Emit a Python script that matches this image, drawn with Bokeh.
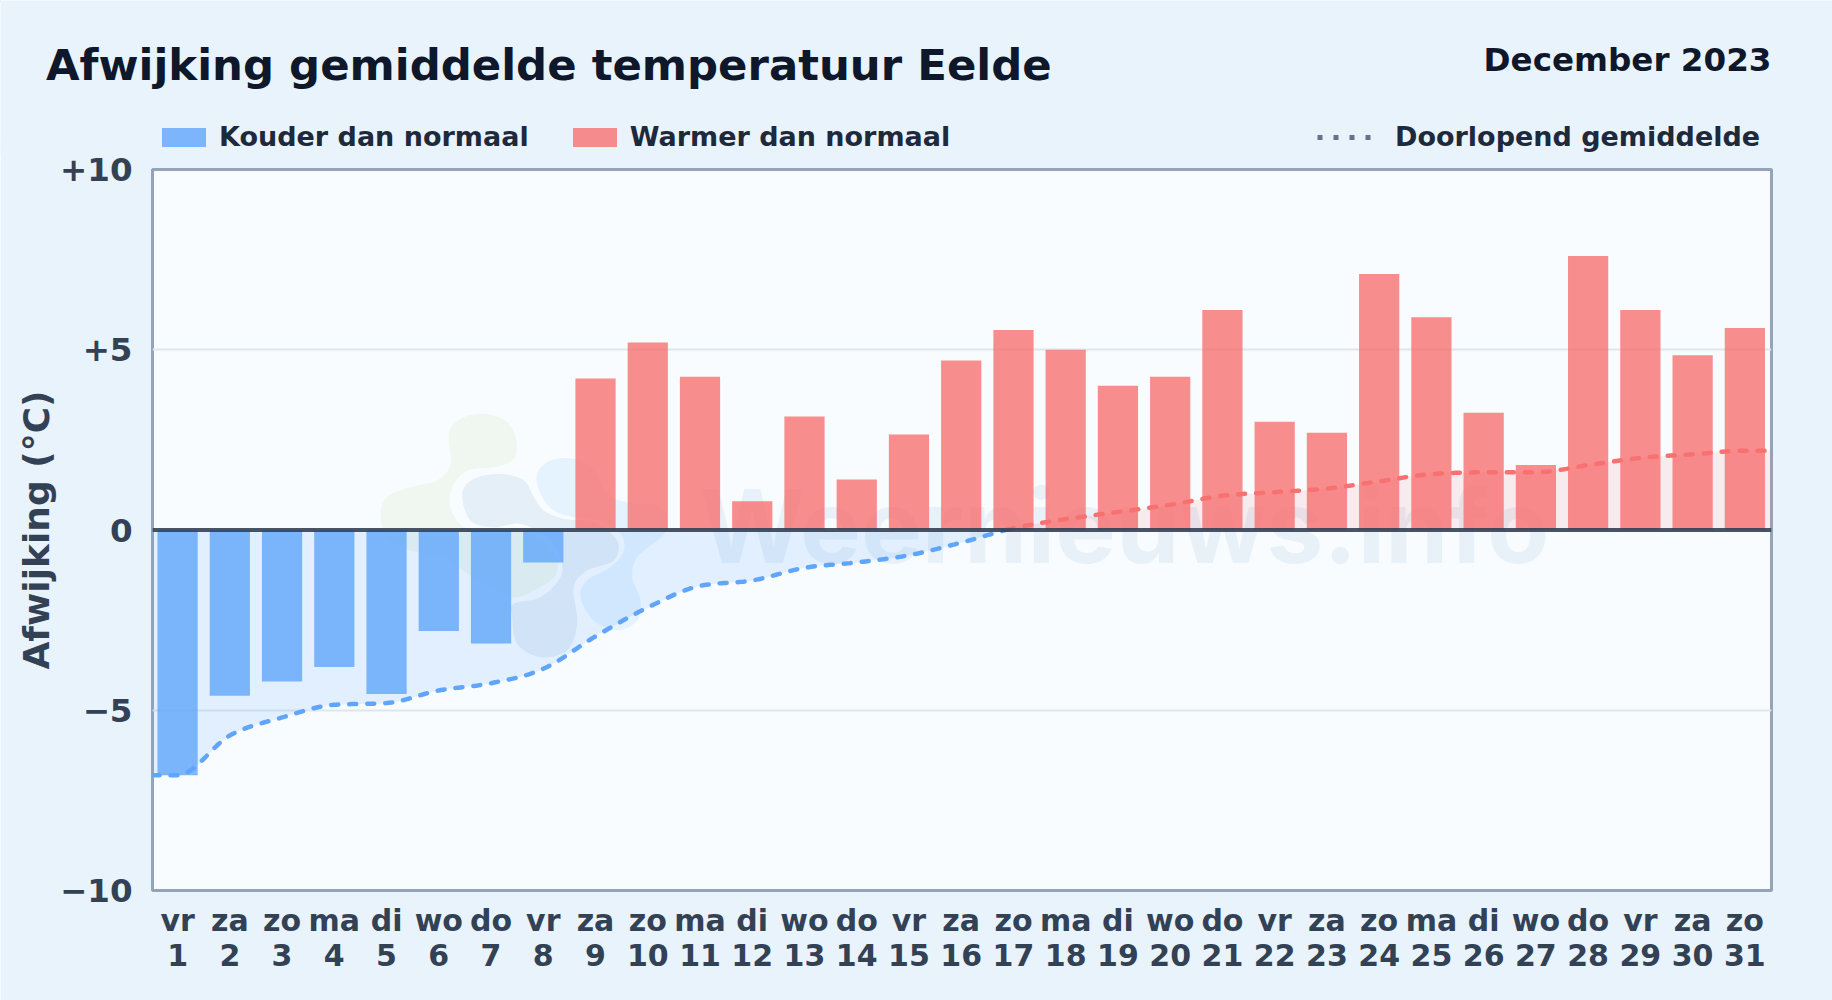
import numpy as np
from bokeh.embed import file_html
from bokeh.resources import INLINE
from bokeh.plotting import figure
from bokeh.models import (ColumnDataSource, FixedTicker, Label, Legend, LegendItem, LinearAxis, PolyAnnotation,
                          Range1d, Span)

TITLE = "Afwijking gemiddelde temperatuur Eelde"
PERIOD = "December 2023"
Y_LABEL = "Afwijking (°C)"
WATERMARK = "Weernieuws.info"
LEGEND_COLD = "Kouder dan normaal"
LEGEND_WARM = "Warmer dan normaal"
LEGEND_MEAN = "Doorlopend gemiddelde"

days = list(range(1, 32))
weekdays = ["vr", "za", "zo", "ma", "di", "wo", "do", "vr", "za", "zo", "ma", "di", "wo", "do", "vr", "za",
            "zo", "ma", "di", "wo", "do", "vr", "za", "zo", "ma", "di", "wo", "do", "vr", "za", "zo"]
anomaly = [-6.8, -4.6, -4.2, -3.8, -4.55, -2.8, -3.15, -0.9, 4.2, 5.2, 4.25, 0.8, 3.15, 1.4, 2.65, 4.7,
           5.55, 5.0, 4.0, 4.25, 6.1, 3.0, 2.7, 7.1, 5.9, 3.25, 1.8, 7.6, 6.1, 4.85, 5.6]
running_mean = [-6.8, -5.7, -5.2, -4.85, -4.8, -4.45, -4.25, -3.85, -2.95, -2.15, -1.55, -1.4, -1.05, -0.9,
                -0.7, -0.35, 0.05, 0.3, 0.5, 0.7, 0.95, 1.05, 1.15, 1.35, 1.55, 1.6, 1.6, 1.8, 2.0, 2.1, 2.2]
y_ticks = [-10, -5, 0, 5, 10]
y_tick_labels = ["−10", "−5", "0", "+5", "+10"]

# Decorative watermark logo outline (reference pixels)
LOGO_GREEN = [(265,130),(300,85),(370,70),(440,95),(470,160),(455,210),(400,230),(320,240),(275,290),(270,350),
              (310,410),(400,430),(480,420),(550,450),(590,510),(580,560),(520,600),(450,620),(350,570),
              (250,500),(150,480),(80,440),(60,370),(80,320),(150,290),(230,270),(270,220)]
LOGO_SLATE = [(305,310),(340,265),(420,250),(490,270),(520,320),(550,360),(610,385),(700,395),(770,450),(760,510),
              (680,540),(640,590),(650,700),(620,780),(540,800),(470,760),(455,680),(460,640),(540,620),
              (600,560),(600,500),(560,440),(480,400),(400,410),(330,390)]
LOGO_SKY = [(530,250),(570,210),(640,205),(700,240),(740,310),(800,335),(900,350),(920,410),(890,450),(830,500),
            (815,560),(840,630),(830,690),(770,720),(700,690),(660,620),(680,570),(750,530),(790,480),
            (780,430),(720,390),(640,380),(580,360),(540,310)]

BG = "#e8f3fc"
LEFT, RIGHT, TOP, BOTTOM = 152, 1771, 169, 890
W, H = 1832, 1000
HEAD = 154
OVERLAP = 14
X0, X1 = 0.52, 31.51
PX_PER_X = (RIGHT - LEFT) / (X1 - X0)
PX_PER_Y = (BOTTOM - TOP) / 20
MID = (TOP + BOTTOM) / 2


def monotone(x, y, per=24):
    x, y = np.asarray(x, float), np.asarray(y, float)
    h = np.diff(x)
    s = np.diff(y) / h
    m = np.zeros_like(y)
    for i in range(1, len(y) - 1):
        if s[i - 1] * s[i] > 0:
            p = (s[i - 1] * h[i] + s[i] * h[i - 1]) / (h[i] + h[i - 1])
            m[i] = (np.sign(s[i - 1]) + np.sign(s[i])) * min(abs(s[i - 1]), abs(s[i]), 0.5 * abs(p))
    m[0], m[-1] = s[0], s[-1]
    xs, ys = [], []
    for i in range(len(h)):
        t = np.linspace(0, 1, per, endpoint=False)
        a = 2 * t**3 - 3 * t**2 + 1
        b = t**3 - 2 * t**2 + t
        c = -2 * t**3 + 3 * t**2
        d = t**3 - t**2
        xs.append(x[i] + t * h[i])
        ys.append(a * y[i] + b * h[i] * m[i] + c * y[i + 1] + d * h[i] * m[i + 1])
    return np.r_[np.concatenate(xs), x[-1]], np.r_[np.concatenate(ys), y[-1]]


def smooth_closed(pts, per=10):
    p = np.array(pts, float)
    n = len(p)
    out = []
    for i in range(n):
        p0, p1, p2, p3 = p[(i - 1) % n], p[i], p[(i + 1) % n], p[(i + 2) % n]
        for t in np.linspace(0, 1, per, endpoint=False):
            out.append(0.5 * (2 * p1 + (p2 - p0) * t + (2 * p0 - 5 * p1 + 4 * p2 - p3) * t**2
                              + (3 * p1 - p0 - 3 * p2 + p3) * t**3))
    out = np.array(out)
    px = 360 + out[:, 0] / 3
    py = 390 + out[:, 1] / 3
    return list(X0 + (px - LEFT) / PX_PER_X), list((MID - py) / PX_PER_Y)


# ---------- main chart ----------
p = figure(width=W, height=H - HEAD + OVERLAP, output_backend="svg", toolbar_location=None,
           x_range=Range1d(X0, X1), y_range=Range1d(-10, 10),
           min_border_left=LEFT, min_border_right=W - RIGHT,
           min_border_top=TOP - HEAD + OVERLAP, min_border_bottom=H - BOTTOM,
           background_fill_color="#f8fcff", border_fill_color=BG,
           outline_line_color="#94a3b8", outline_line_width=3,
           styles={"margin-top": f"-{OVERLAP}px"})

# watermark
for pts, col, alpha in [(LOGO_GREEN, "#9cc85a", 0.09), (LOGO_SLATE, "#2f6aa8", 0.09), (LOGO_SKY, "#3ba4f5", 0.10)]:
    xs, ys = smooth_closed(pts)
    p.add_layout(PolyAnnotation(xs=xs, ys=ys, fill_color=col, fill_alpha=alpha, line_alpha=0, level="underlay"))
p.add_layout(Label(x=X0 + (1124 - LEFT) / PX_PER_X, y=(MID - 525.5) / PX_PER_Y, text=WATERMARK, text_align="center",
                   text_baseline="middle", text_font="Inter", text_font_style="bold", text_font_size="102px",
                   text_color="#2f6aa8", text_alpha=0.08, level="underlay"))

# running mean, smooth, split at zero
lx = [X0] + days + [X1]
ly = [running_mean[0]] + running_mean + [running_mean[-1]]
cx, cy = monotone(lx, ly)
neg = cy <= 0
p.varea(x=cx, y1=np.minimum(cy, 0), y2=0, fill_color="#60a5fa", fill_alpha=0.15)
p.varea(x=cx, y1=np.maximum(cy, 0), y2=0, fill_color="#f87171", fill_alpha=0.12)

src_cold = ColumnDataSource(dict(x=[d for d, a in zip(days, anomaly) if a < 0], top=[a for a in anomaly if a < 0]))
src_warm = ColumnDataSource(dict(x=[d for d, a in zip(days, anomaly) if a >= 0], top=[a for a in anomaly if a >= 0]))
p.vbar(x="x", top="top", bottom=0, width=0.77, source=src_cold, fill_color="#60a5fa", fill_alpha=0.8, line_alpha=0)
p.vbar(x="x", top="top", bottom=0, width=0.77, source=src_warm, fill_color="#f87171", fill_alpha=0.8, line_alpha=0)

p.line(cx[neg], cy[neg], line_color="#60a5fa", line_width=4.5, line_dash="7 11", line_cap="round")
p.line(cx[~neg], cy[~neg], line_color="#f87171", line_width=4.5, line_dash="7 11", line_cap="round")

p.add_layout(Span(location=0, dimension="width", line_color="#334155", line_width=4, line_alpha=0.9))

# axes: weekday row, then day-number row
AX = dict(axis_line_color=None, major_tick_line_color=None, minor_tick_line_color=None,
          major_label_text_font="DejaVu Sans", major_label_text_font_style="bold",
          major_label_text_color="#334155")
ax_wd = p.xaxis[0]
ax_wd.update(ticker=FixedTicker(ticks=days), major_label_overrides=dict(zip(days, weekdays)),
             major_label_text_font_size="30px", major_label_standoff=6, **AX)
ax_day = LinearAxis(ticker=FixedTicker(ticks=days), major_label_overrides={d: str(d) for d in days},
                    major_label_text_font_size="30px", major_label_standoff=-3, **AX)
p.add_layout(ax_day, "below")
ax_y = p.yaxis[0]
ax_y.update(ticker=FixedTicker(ticks=y_ticks), major_label_overrides=dict(zip(y_ticks, y_tick_labels)),
            major_label_text_font_size="32.5px", major_label_standoff=14,
            axis_label=Y_LABEL, axis_label_text_font="DejaVu Sans", axis_label_text_font_style="bold",
            axis_label_text_font_size="36px", axis_label_text_color="#334155", axis_label_standoff=0, **AX)
p.xgrid.visible = False
p.ygrid.ticker = FixedTicker(ticks=[-5, 5])
p.ygrid.grid_line_color = "#dfe6ec"
p.ygrid.grid_line_width = 2

# ---------- header: title and legend, in pixel coordinates, painted above the chart's top margin ----------
head = figure(width=W, height=HEAD, output_backend="svg", toolbar_location=None,
              x_range=Range1d(0, W), y_range=Range1d(HEAD, 0), x_axis_location=None, y_axis_location=None,
              min_border=0, background_fill_color=BG, border_fill_color=BG, outline_line_color=None,
              styles={"position": "relative", "z-index": "1"})
head.grid.visible = False
# off-range keys: only their legend glyphs show
key_cold = head.vbar(x=[-50], top=[1], bottom=0, width=1, fill_color="#60a5fa", fill_alpha=0.8, line_alpha=0)
key_warm = head.vbar(x=[-50], top=[1], bottom=0, width=1, fill_color="#f87171", fill_alpha=0.8, line_alpha=0)
key_mean = head.line([-60, -50], [0, 0], line_color="#64748b", line_width=5, line_dash="5 11")

common = dict(orientation="horizontal", background_fill_alpha=0, border_line_alpha=0, margin=0, padding=0,
              label_text_font="DejaVu Sans", label_text_font_style="bold", label_text_font_size="27px",
              label_text_color="#1e293b")
lg1 = Legend(items=[LegendItem(label=LEGEND_COLD, renderers=[key_cold]), LegendItem(label=LEGEND_WARM, renderers=[key_warm])],
             location=(156, 2), glyph_width=55, glyph_height=24, label_height=24, label_standoff=8, spacing=38, **common)
lg2 = Legend(items=[LegendItem(label=LEGEND_MEAN, renderers=[key_mean])],
             location=(1317, 2), glyph_width=57, glyph_height=24, label_height=24, label_standoff=21, **common)
head.add_layout(lg1, "center")
head.add_layout(lg2, "center")

head.add_layout(Label(x=45.5, y=64.5, text=TITLE, text_font="DejaVu Sans", text_font_style="bold",
                      text_font_size="43.4px", text_color="#0f172a", text_baseline="middle"))
head.add_layout(Label(x=1771, y=59.5, text=PERIOD, text_align="right", text_font="DejaVu Sans", text_font_style="bold",
                      text_font_size="32.6px", text_color="#0f172a", text_baseline="middle"))

html = file_html([head, p], INLINE)
html = html.replace("<body>", f'<body style="margin:0;overflow:hidden;background:{BG}">', 1)
open("out.html", "w").write(html)
